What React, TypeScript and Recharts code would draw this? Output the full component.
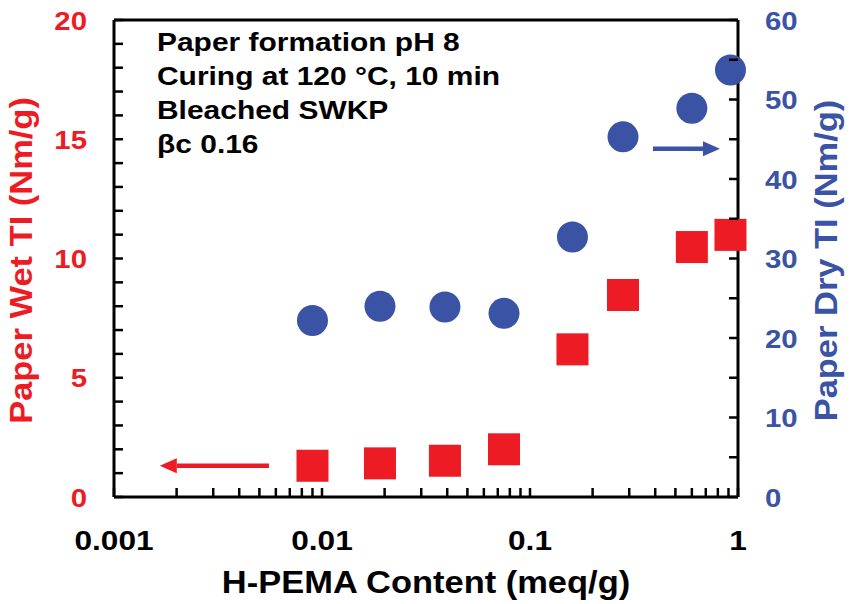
import { ScatterChart, Scatter, XAxis, YAxis, ReferenceLine, Label } from 'recharts';

// H-PEMA content (meq/g) and tensile indices
const CONTENT = [0.009, 0.019, 0.039, 0.075, 0.16, 0.28, 0.6, 0.92];
const WET_TI = [1.31, 1.41, 1.52, 2.0, 6.19, 8.47, 10.48, 10.99];
const DRY_TI = [22.2, 24.0, 23.9, 23.1, 32.7, 45.3, 48.9, 53.7];

const X_MAJOR = [0.001, 0.01, 0.1, 1];
const X_LABELS = ['0.001', '0.01', '0.1', '1'];
const LEFT_MAJOR = [0, 5, 10, 15, 20];
const RIGHT_MAJOR = [0, 10, 20, 30, 40, 50, 60];

const NOTES = ['Paper formation pH 8', 'Curing at 120 °C, 10 min', 'Bleached SWKP', 'βc 0.16'];

// arrows pointing at the axis each series belongs to (data coords: tail -> tip)
const WET_ARROW = [{ x: 0.00556, y: 1.31 }, { x: 0.00166, y: 1.31 }];
const DRY_ARROW = [{ x: 0.39, y: 43.8 }, { x: 0.819, y: 43.8 }];

const RED = '#ED1C24';
const BLUE = '#3A53A4';
const FONT = '"Liberation Sans", Arial, sans-serif';
const SX = 1.13; // the original lettering is a bit wider than Arial
const TICK = 9;  // inward tick length
const GAP = 27;  // axis line -> tick label

const wetData = CONTENT.map((x, i) => ({ x, y: WET_TI[i] }));
const dryData = CONTENT.map((x, i) => ({ x, y: DRY_TI[i] }));

const xTicks = X_MAJOR.flatMap((m, i) =>
  i === X_MAJOR.length - 1 ? [m] : [1, 2, 3, 4, 5, 6, 7, 8, 9].map(k => +(k * m).toPrecision(3))
);
const leftTicks = Array.from({ length: 21 }, (_, i) => i);
const rightTicks = Array.from({ length: 13 }, (_, i) => i * 5);

// ticks point into the plot, so the tick mark is drawn here with the label
const XTick = ({ x, y, payload }: any) => {
  const idx = X_MAJOR.findIndex(v => Math.abs(v - payload.value) < 1e-9);
  return (
    <g>
      <line x1={x} y1={y} x2={x} y2={y - TICK} stroke="#000" strokeWidth={2.5} />
      {idx >= 0 && (
        <text transform={`translate(${x},${y + 53}) scale(${SX},1)`} textAnchor="middle"
          fontFamily={FONT} fontWeight="bold" fontSize={28} fill="#000">
          {X_LABELS[idx]}
        </text>
      )}
    </g>
  );
};

const YTick = ({ x, y, payload, side }: any) => {
  const left = side === 'left';
  const major = left ? LEFT_MAJOR : RIGHT_MAJOR;
  const ax = left ? x + GAP : x - GAP;
  return (
    <g>
      <line x1={ax} y1={y} x2={left ? ax + TICK : ax - TICK} y2={y} stroke="#000" strokeWidth={2.5} />
      {major.includes(payload.value) && (
        <text transform={`translate(${x},${y + 9.5}) scale(${SX},1)`} textAnchor={left ? 'end' : 'start'}
          fontFamily={FONT} fontWeight="bold" fontSize={26} fill={left ? RED : BLUE}>
          {payload.value}
        </text>
      )}
    </g>
  );
};

const arrow = (color: string) => (p: any) => {
  const { x1, y1, x2, y2 } = p;
  const dir = Math.sign(x2 - x1);
  const bx = x2 - dir * 17;
  return (
    <g>
      <line x1={x1} y1={y1} x2={bx} y2={y2} stroke={color} strokeWidth={4.5} />
      <polygon points={`${x2},${y2} ${bx},${y2 - 7.5} ${bx},${y2 + 7.5}`} fill={color} />
    </g>
  );
};

const yTitle = (text: string, color: string, bx: (vb: any) => number) => (props: any) => {
  const vb = props.viewBox;
  const cy = vb.y + vb.height / 2 + 2;
  return (
    <text transform={`translate(${bx(vb)},${cy}) rotate(-90) scale(${SX},1)`} textAnchor="middle"
      fontFamily={FONT} fontWeight="bold" fontSize={30.5} fill={color}>
      {text}
    </text>
  );
};

export default function App() {
  return (
    <div style={{ position: 'absolute', left: 0, top: 0, width: 856, height: 604, background: '#fff' }}>
      <ScatterChart width={856} height={604} margin={{ top: 20, right: 0, bottom: 0, left: 0 }}>
        <XAxis dataKey="x" type="number" scale="log" domain={[0.001, 1]}
          ticks={xTicks} interval={0} tickSize={0} tickMargin={0} height={107}
          axisLine={{ stroke: '#000', strokeWidth: 3 }} tickLine={false}
          tick={<XTick />}>
          <Label content={(props: any) => (
            <text transform={`translate(${props.viewBox.x + props.viewBox.width / 2},${props.viewBox.y + 96}) scale(${SX},1)`}
              textAnchor="middle" fontFamily={FONT} fontWeight="bold" fontSize={30.5} fill="#000">
              H-PEMA Content (meq/g)
            </text>
          )} />
        </XAxis>
        <YAxis yAxisId="left" dataKey="y" type="number" domain={[0, 20]} ticks={leftTicks} interval={0}
          width={114} tickSize={0} tickMargin={GAP}
          axisLine={{ stroke: '#000', strokeWidth: 3 }} tickLine={false}
          tick={<YTick side="left" />}>
          <Label content={yTitle('Paper Wet TI (Nm/g)', RED, vb => vb.x + 32)} />
        </YAxis>
        <YAxis yAxisId="right" orientation="right" dataKey="y" type="number" domain={[0, 60]} ticks={rightTicks}
          interval={0} width={118} tickSize={0} tickMargin={GAP}
          axisLine={{ stroke: '#000', strokeWidth: 3 }} tickLine={false}
          tick={<YTick side="right" />}>
          <Label content={yTitle('Paper Dry TI (Nm/g)', BLUE, vb => vb.x + 99)} />
        </YAxis>
        <ReferenceLine yAxisId="left" y={20} stroke="#000" strokeWidth={3} />
        <ReferenceLine yAxisId="left" segment={WET_ARROW} shape={arrow(RED)} />
        <ReferenceLine yAxisId="right" segment={DRY_ARROW} shape={arrow(BLUE)} />
        <Scatter yAxisId="left" data={wetData} isAnimationActive={false}
          shape={(p: any) => <rect x={p.cx - 16} y={p.cy - 16} width={32} height={32} fill={RED} />} />
        <Scatter yAxisId="right" data={dryData} isAnimationActive={false}
          shape={(p: any) => <circle cx={p.cx} cy={p.cy} r={15.5} fill={BLUE} />} />
      </ScatterChart>
      <svg width={856} height={604} style={{ position: 'absolute', left: 0, top: 0, pointerEvents: 'none' }}>
        {NOTES.map((t, i) => (
          <text key={t} transform={`translate(157,${51 + i * 34}) scale(${SX},1)`}
            fontFamily={FONT} fontWeight="bold" fontSize={26.5} fill="#000">
            {t}
          </text>
        ))}
      </svg>
    </div>
  );
}
